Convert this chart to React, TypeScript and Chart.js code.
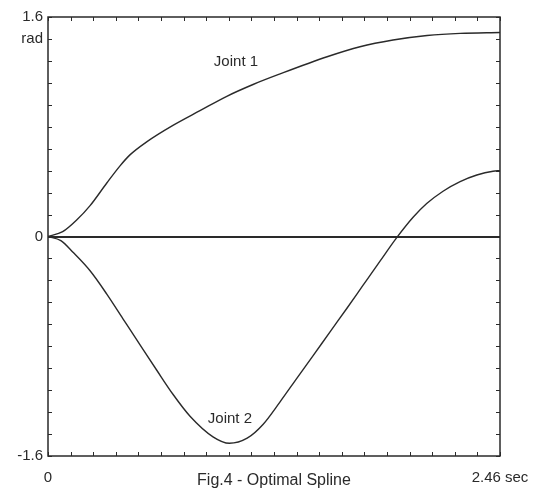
import { useEffect, useRef } from 'react';
import { Chart, registerables } from 'chart.js';

Chart.register(...registerables);

// ---- data ----
const joint1Times = [0, 0.08, 0.156, 0.229, 0.32, 0.392, 0.446, 0.537, 0.68, 0.827, 0.973, 1.116, 1.263, 1.519, 1.698, 1.878, 2.063, 2.243, 2.46];
const joint1Values = [0, 0.035, 0.12, 0.225, 0.39, 0.515, 0.595, 0.69, 0.81, 0.917, 1.022, 1.108, 1.185, 1.31, 1.383, 1.432, 1.465, 1.481, 1.487];

const joint2Times = [0, 0.07, 0.136, 0.229, 0.32, 0.408, 0.501, 0.592, 0.68, 0.773, 0.898, 0.987, 1.084, 1.17, 1.263, 1.356, 1.442, 1.535, 1.626, 1.715, 1.808, 1.9, 1.987, 2.061, 2.15, 2.243, 2.334, 2.422, 2.46];
const joint2Values = [0, -0.03, -0.115, -0.25, -0.42, -0.6, -0.79, -0.975, -1.15, -1.31, -1.46, -1.507, -1.47, -1.37, -1.205, -1.03, -0.87, -0.695, -0.525, -0.355, -0.178, -0.005, 0.14, 0.24, 0.33, 0.4, 0.448, 0.476, 0.48];

const xMin = 0;
const xMax = 2.46;
const xStep = 0.123;
const yMin = -1.6;
const yMax = 1.6;
const yStep = 0.16;

const xLabelValues = [0, 2.46];
const xLabelTexts = ['0', '2.46 sec'];
const yLabelValues = [-1.6, 0, 1.44, 1.6];
const yLabelTexts = ['-1.6', '0', 'rad', '1.6'];

const caption = 'Fig.4 - Optimal Spline';
const seriesNames = ['Joint 1', 'Joint 2'];
const seriesLabelTimes = [1.023, 0.99];
const seriesLabelValues = [1.272, -1.33];

const INK = '#2a2a2a';
const FONT = '"Liberation Sans", Arial, sans-serif';

function labelFor(values: number[], texts: string[], v: number): string {
  for (let i = 0; i < values.length; i++) {
    if (Math.abs(values[i] - v) < 1e-6) return texts[i];
  }
  return '';
}

const framePlugin = {
  id: 'framePlugin',
  afterDraw(chart: any) {
    const { ctx, chartArea: a, scales } = chart;
    const xs = scales.x;
    const ys = scales.y;
    ctx.save();
    ctx.strokeStyle = INK;
    ctx.lineWidth = 1.5;
    ctx.strokeRect(a.left, a.top, a.right - a.left, a.bottom - a.top);
    ctx.lineWidth = 1;
    const L = 4;
    ctx.beginPath();
    xs.ticks.forEach((t: any) => {
      const px = Math.round(xs.getPixelForValue(t.value)) + 0.5;
      ctx.moveTo(px, a.bottom);
      ctx.lineTo(px, a.bottom - L);
      ctx.moveTo(px, a.top);
      ctx.lineTo(px, a.top + L);
    });
    ys.ticks.forEach((t: any) => {
      const py = Math.round(ys.getPixelForValue(t.value)) + 0.5;
      ctx.moveTo(a.left, py);
      ctx.lineTo(a.left + L, py);
      ctx.moveTo(a.right, py);
      ctx.lineTo(a.right - L, py);
    });
    ctx.stroke();

    ctx.fillStyle = INK;
    ctx.font = '15px ' + FONT;
    ctx.textAlign = 'center';
    ctx.textBaseline = 'middle';
    seriesNames.forEach((n, i) => {
      ctx.fillText(n, xs.getPixelForValue(seriesLabelTimes[i]), ys.getPixelForValue(seriesLabelValues[i]));
    });
    ctx.restore();
  },
};

export default function App() {
  const ref = useRef<HTMLCanvasElement | null>(null);

  useEffect(() => {
    if (!ref.current) return;
    const chart = new Chart(ref.current, {
      type: 'line',
      data: {
        datasets: [
          {
            label: seriesNames[0],
            data: joint1Times.map((t, i) => ({ x: t, y: joint1Values[i] })),
            borderColor: INK,
            borderWidth: 1.4,
            pointRadius: 0,
            fill: false,
            cubicInterpolationMode: 'monotone',
          },
          {
            label: seriesNames[1],
            data: joint2Times.map((t, i) => ({ x: t, y: joint2Values[i] })),
            borderColor: INK,
            borderWidth: 1.4,
            pointRadius: 0,
            fill: false,
            cubicInterpolationMode: 'monotone',
          },
        ],
      },
      options: {
        responsive: false,
        animation: false,
        layout: { padding: { top: 17, right: 42, bottom: 0, left: 0 } },
        plugins: {
          legend: { display: false },
          tooltip: { enabled: false },
        },
        scales: {
          x: {
            type: 'linear',
            min: xMin,
            max: xMax,
            border: { display: false },
            grid: { display: false, drawTicks: false },
            ticks: {
              stepSize: xStep,
              autoSkip: false,
              maxRotation: 0,
              padding: 13,
              color: INK,
              font: { family: FONT, size: 15 },
              callback: (v: any) => labelFor(xLabelValues, xLabelTexts, Number(v)),
            },
            title: {
              display: true,
              text: caption,
              color: INK,
              font: { family: FONT, size: 16 },
              padding: { top: 0, bottom: 0 },
            },
            afterFit: (scale: any) => {
              scale.height = 34;
              scale.paddingLeft = 0;
              scale.paddingRight = 0;
            },
          },
          y: {
            type: 'linear',
            min: yMin,
            max: yMax,
            border: { display: false },
            grid: {
              drawTicks: false,
              drawOnChartArea: true,
              color: (c: any) => (c.tick && c.tick.value === 0 ? INK : 'rgba(0,0,0,0)'),
              lineWidth: (c: any) => (c.tick && c.tick.value === 0 ? 2 : 0),
            },
            ticks: {
              stepSize: yStep,
              autoSkip: false,
              padding: 5,
              color: INK,
              font: { family: FONT, size: 15 },
              callback: (v: any) => labelFor(yLabelValues, yLabelTexts, Number(v)),
            },
            afterFit: (scale: any) => {
              scale.width = 48;
              scale.paddingTop = 0;
              scale.paddingBottom = 0;
            },
          },
        },
      },
      plugins: [framePlugin],
    } as any);
    return () => chart.destroy();
  }, []);

  return (
    <div style={{ position: 'fixed', left: 0, top: 0, width: 542, height: 490, background: '#ffffff' }}>
      <canvas ref={ref} width={542} height={490} />
    </div>
  );
}
